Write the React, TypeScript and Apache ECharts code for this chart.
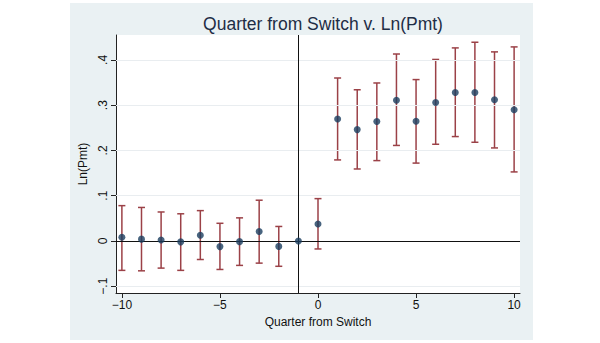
import React, { useEffect, useRef } from "react";
import * as echarts from "echarts";

const quarters = [-10, -9, -8, -7, -6, -5, -4, -3, -2, -1, 0, 1, 2, 3, 4, 5, 6, 7, 8, 9, 10];
const estimates = [0.008, 0.004, 0.002, -0.002, 0.0125, -0.0125, -0.0015, 0.021, -0.012, 0, 0.0376, 0.2696, 0.246, 0.264, 0.311, 0.2645, 0.306, 0.328, 0.328, 0.312, 0.29];
const ciUpper = [0.078, 0.074, 0.064, 0.06, 0.067, 0.039, 0.051, 0.09, 0.032, null, 0.0935, 0.36, 0.334, 0.349, 0.413, 0.3565, 0.401, 0.4265, 0.439, 0.4177, 0.4287];
const ciLower = [-0.065, -0.066, -0.06, -0.065, -0.041, -0.063, -0.054, -0.049, -0.056, null, -0.0177, 0.179, 0.159, 0.1775, 0.211, 0.172, 0.2136, 0.2306, 0.218, 0.2055, 0.1525];
const yTickValues = [-0.1, 0, 0.1, 0.2, 0.3, 0.4];
const yTickLabels = ["\u2212.1", "0", ".1", ".2", ".3", ".4"];
const xTickValues = [-10, -5, 0, 5, 10];
const xTickLabels = ["\u221210", "\u22125", "0", "5", "10"];
const switchLine = -1;

const FONT = "Liberation Sans, Arial, sans-serif";
const CI_COLOR = "#9b4147";
const PT_COLOR = "#1a3d5f";

export default function App() {
  const ref = useRef<HTMLDivElement>(null);
  useEffect(() => {
    if (!ref.current) return;
    const chart = echarts.init(ref.current, undefined, { renderer: "svg" });
    const ciData = quarters
      .map((q, i) => [q, ciLower[i], ciUpper[i]])
      .filter((d) => d[1] !== null);
    chart.setOption({
      animation: false,
      backgroundColor: "#ffffff",
      graphic: [
        {
          type: "rect",
          shape: { x: 70, y: 3, width: 463, height: 337 },
          style: { fill: "#eaf1f3" },
          z: -10,
        },
      ],
      title: {
        text: "Quarter from Switch v. Ln(Pmt)",
        left: 318,
        textAlign: "center",
        top: 10,
        textStyle: { fontFamily: FONT, fontSize: 17.5, fontWeight: "normal", color: "#1e2d45" },
      },
      grid: { left: 116, right: 80, top: 35, bottom: 50, show: true, backgroundColor: "#ffffff", borderWidth: 0 },
      xAxis: {
        type: "value",
        min: -10.3,
        max: 10.3,
        name: "Quarter from Switch",
        nameLocation: "middle",
        nameGap: 19,
        nameTextStyle: { fontFamily: FONT, fontSize: 12, color: "#111", verticalAlign: "top" },
        axisLine: { show: true, onZero: false, lineStyle: { color: "#222", width: 1 } },
        axisTick: { show: true, length: 5, customValues: xTickValues, lineStyle: { color: "#222" } },
        axisLabel: {
          customValues: xTickValues,
          formatter: (v: number) => xTickLabels[xTickValues.indexOf(v)] ?? "",
          fontFamily: FONT,
          fontSize: 12,
          color: "#111",
          margin: 6,
        },
        splitLine: { show: false },
      },
      yAxis: {
        type: "value",
        min: -0.115,
        max: 0.455,
        name: "Ln(Pmt)",
        nameLocation: "middle",
        nameRotate: 90,
        nameGap: 23,
        nameTextStyle: { fontFamily: FONT, fontSize: 12, color: "#111" },
        axisLine: { show: true, onZero: false, lineStyle: { color: "#222", width: 1 } },
        axisTick: { show: true, length: 5, customValues: yTickValues, lineStyle: { color: "#222" } },
        axisLabel: {
          customValues: yTickValues,
          rotate: 90,
          formatter: (v: number) => {
            const i = yTickValues.findIndex((t) => Math.abs(t - v) < 1e-9);
            return i >= 0 ? yTickLabels[i] : "";
          },
          fontFamily: FONT,
          fontSize: 12,
          color: "#111",
          margin: 7,
        },
        splitLine: { show: false },
      },
      series: [
        {
          type: "line",
          data: [],
          silent: true,
          markLine: {
            silent: true,
            symbol: "none",
            label: { show: false },
            lineStyle: { color: "#e9edf0", width: 1, type: "solid" },
            data: yTickValues.filter((v) => v !== 0).map((v) => ({ yAxis: v })),
          },
        },
        {
          type: "custom",
          data: ciData,
          z: 3,
          renderItem: (params: any, api: any) => {
            const x = api.value(0);
            const lo = api.coord([x, api.value(1)]);
            const hi = api.coord([x, api.value(2)]);
            const hw = 3.5;
            const style = { stroke: CI_COLOR, lineWidth: 1.5 };
            return {
              type: "group",
              children: [
                { type: "line", shape: { x1: lo[0], y1: lo[1], x2: hi[0], y2: hi[1] }, style },
                { type: "line", shape: { x1: lo[0] - hw, y1: lo[1], x2: lo[0] + hw, y2: lo[1] }, style },
                { type: "line", shape: { x1: hi[0] - hw, y1: hi[1], x2: hi[0] + hw, y2: hi[1] }, style },
              ],
            };
          },
        },
        {
          type: "scatter",
          data: quarters.map((q, i) => [q, estimates[i]]),
          symbol: "circle",
          symbolSize: 7,
          itemStyle: { color: PT_COLOR },
          z: 5,
          markLine: {
            silent: true,
            symbol: "none",
            label: { show: false },
            lineStyle: { color: "#111", width: 1, type: "solid" },
            data: [{ yAxis: 0 }, { xAxis: switchLine }],
          },
        },
      ],
    });
    return () => chart.dispose();
  }, []);
  return (
    <div
      ref={ref}
      style={{ position: "fixed", left: 0, top: 0, width: 600, height: 343 }}
    />
  );
}
